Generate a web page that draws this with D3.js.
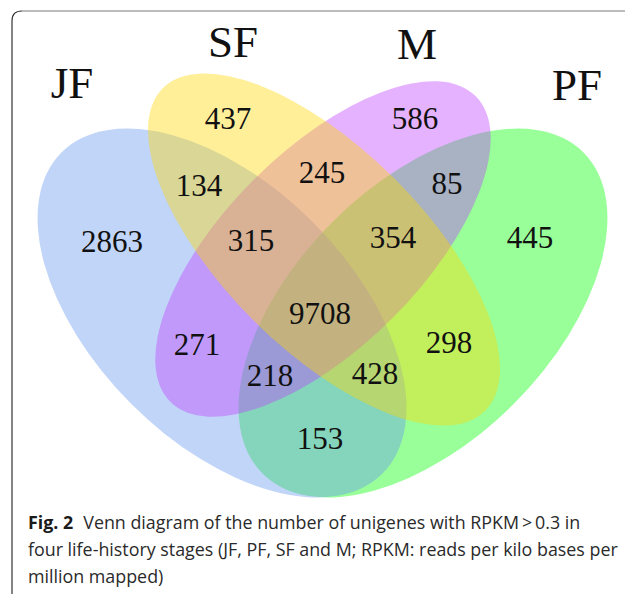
<!DOCTYPE html>
<html>
<head>
<meta charset="utf-8">
<script src="https://cdn.jsdelivr.net/npm/d3@7"></script>
<style>
  html, body { margin: 0; padding: 0; background: #fff; }
  svg { display: block; }
</style>
</head>
<body>
<script>
// ---- data ----
const sets = ["JF", "SF", "M", "PF"];
const regionSets = [
  ["JF"], ["SF"], ["M"], ["PF"],
  ["JF", "SF"], ["SF", "M"], ["M", "PF"], ["JF", "M"], ["SF", "PF"], ["JF", "PF"],
  ["JF", "SF", "M"], ["SF", "M", "PF"], ["JF", "M", "PF"], ["JF", "SF", "PF"],
  ["JF", "SF", "M", "PF"]
];
const regionCounts = [2863, 437, 586, 445, 134, 245, 85, 271, 298, 153, 315, 354, 218, 428, 9708];
const captionBold = "Fig. 2";
const captionLines = [
  "Venn diagram of the number of unigenes with RPKM\u2009>\u20090.3 in",
  "four life-history stages (JF, PF, SF and M; RPKM: reads per kilo bases per",
  "million mapped)"
];

// ---- styling & layout ----
const W = 625, H = 594;
const setColor = { JF: "#6495ed", SF: "#ffd700", M: "#bf3eff", PF: "#00ff00" };
// ellipse geometry: centre, semi-axes, rotation (deg)
const setShape = {
  JF: { cx: 222, cy: 313, rx: 227, ry: 128.5, rot: 45 },
  PF: { cx: 423, cy: 313, rx: 227, ry: 128.5, rot: -45 },
  SF: { cx: 324, cy: 249.5, rx: 228, ry: 100, rot: 45 },
  M:  { cx: 323, cy: 249, rx: 216, ry: 98, rot: -45 }
};
const drawOrder = ["PF", "JF", "M", "SF"];
const setLabelPos = { JF: [72, 98], SF: [233, 57], M: [417, 59], PF: [577, 100] };
const regionLabelPos = {
  "JF": [112, 252], "SF": [228, 129], "M": [415, 129], "PF": [530, 248],
  "JF&SF": [199, 196], "SF&M": [322, 183], "M&PF": [447, 194], "JF&M": [197, 355],
  "SF&PF": [449, 353], "JF&PF": [320, 449],
  "JF&SF&M": [251, 251], "SF&M&PF": [393, 248], "JF&M&PF": [270, 386], "JF&SF&PF": [375, 384],
  "JF&SF&M&PF": [320, 324]
};

const svg = d3.select("body").append("svg")
  .attr("width", W).attr("height", H);

// frame around the figure
svg.append("path")
  .attr("d", "M12,596 L12,21 Q12,11 22,11")
  .attr("fill", "none").attr("stroke", "#333").attr("stroke-width", 1.2);
svg.append("path")
  .attr("d", "M22,11 L625,11")
  .attr("fill", "none").attr("stroke", "#7a7a7a").attr("stroke-width", 1.2);

// translucent set ellipses
svg.append("g").selectAll("ellipse")
  .data(drawOrder)
  .join("ellipse")
  .attr("transform", d => `translate(${setShape[d].cx},${setShape[d].cy}) rotate(${setShape[d].rot})`)
  .attr("rx", d => setShape[d].rx)
  .attr("ry", d => setShape[d].ry)
  .attr("fill", d => setColor[d])
  .attr("fill-opacity", 0.4);

// set names
svg.append("g").selectAll("text")
  .data(sets)
  .join("text")
  .attr("x", d => setLabelPos[d][0])
  .attr("y", d => setLabelPos[d][1])
  .attr("text-anchor", "middle")
  .attr("font-family", "'Liberation Serif', 'Times New Roman', serif")
  .attr("font-size", 45)
  .attr("fill", "#111")
  .text(d => d);

// region counts
const regions = regionSets.map((s, i) => ({ key: s.join("&"), count: regionCounts[i] }));
svg.append("g").selectAll("text")
  .data(regions)
  .join("text")
  .attr("x", d => regionLabelPos[d.key][0])
  .attr("y", d => regionLabelPos[d.key][1])
  .attr("text-anchor", "middle")
  .attr("font-family", "'Liberation Serif', 'Times New Roman', serif")
  .attr("font-size", 31)
  .attr("fill", "#111")
  .text(d => d3.format("d")(d.count));

// caption: one font size chosen so the widest line fits its column
const capFont = "'Open Sans', 'Noto Sans', sans-serif";
const capG = svg.append("g").attr("font-family", capFont).attr("fill", "#2a2a2a");
const lineStarts = [[90, 529, 508], [28, 556, 590], [28, 583, 131]];
const probe = capG.append("text").attr("font-size", 20).text(captionLines[1]);
const capSize = Math.min(20, 20 * lineStarts[1][2] / probe.node().getComputedTextLength());
probe.remove();
capG.attr("font-size", capSize);
const bold = capG.append("text").attr("x", 28).attr("y", 529)
  .attr("font-weight", "bold").attr("fill", "#1a1a1a").text(captionBold);
const boldEnd = 28 + bold.node().getComputedTextLength();
captionLines.forEach((t, i) => {
  const x = i === 0 ? Math.max(boldEnd + 10, 0) : lineStarts[i][0];
  capG.append("text").attr("x", x).attr("y", lineStarts[i][1]).text(t);
});
</script>
</body>
</html>
